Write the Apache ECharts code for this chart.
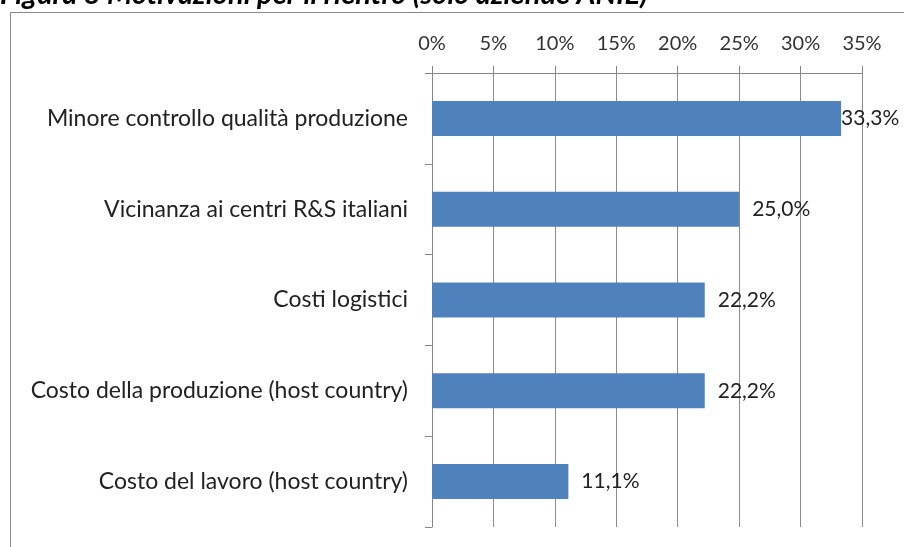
<!DOCTYPE html>
<html>
<head>
<meta charset="utf-8">
<script src="https://cdn.jsdelivr.net/npm/echarts@6/dist/echarts.min.js"></script>
<style>
  html, body { margin: 0; padding: 0; background: #fff; }
  #chart { width: 904px; height: 547px; }
</style>
</head>
<body>
<div id="chart"></div>
<script>
var titleText = 'Figura 8 Motivazioni per il rientro (solo aziende ANIE)';
var categories = [
  'Minore controllo qualità produzione',
  'Vicinanza ai centri R&S italiani',
  'Costi logistici',
  'Costo della produzione (host country)',
  'Costo del lavoro (host country)'
];
var values = [33.3, 25.0, 22.2, 22.2, 11.1];
var labelGaps = [0, 13, 13, 13, 13];

var myChart = echarts.init(document.getElementById('chart'));

var barData = values.map(function (v, i) {
  return { value: v, label: { distance: labelGaps[i] } };
});

myChart.setOption({
  animation: false,
  backgroundColor: '#fff',
  textStyle: { fontFamily: 'Lato' },
  graphic: [
    {
      type: 'rect',
      shape: { x: 10.5, y: 12.5, width: 1000, height: 600 },
      style: { fill: 'none', stroke: '#8a8a8a', lineWidth: 1 },
      silent: true
    },
    {
      type: 'text',
      left: 0,
      top: -20,
      style: {
        text: titleText,
        font: 'italic bold 29px Lato',
        fill: '#000'
      }
    }
  ],
  grid: {
    left: 432,
    right: 42,
    top: 73,
    bottom: 20
  },
  xAxis: {
    type: 'value',
    position: 'top',
    min: 0,
    max: 35,
    interval: 5,
    axisLabel: {
      color: '#333',
      fontSize: 20,
      fontFamily: 'Lato',
      margin: 19,
      formatter: function (v) { return v + '%'; }
    },
    axisLine: { show: true, lineStyle: { color: '#868686' } },
    axisTick: { show: true, length: 7, lineStyle: { color: '#868686' } },
    splitLine: { show: true, lineStyle: { color: '#8c8c8c' } }
  },
  yAxis: {
    type: 'category',
    inverse: true,
    data: categories,
    axisLabel: {
      color: '#222',
      fontSize: 23,
      fontFamily: 'Lato',
      margin: 24
    },
    axisLine: { show: true, lineStyle: { color: '#868686' } },
    axisTick: { show: true, length: 7, lineStyle: { color: '#868686' } }
  },
  series: [{
    type: 'bar',
    data: barData,
    barWidth: 35,
    itemStyle: { color: '#4F81BD' },
    label: {
      show: true,
      position: 'right',
      color: '#222',
      fontSize: 21,
      fontFamily: 'Lato',
      formatter: function (p) { return p.value.toFixed(1).replace('.', ',') + '%'; }
    }
  }]
});
</script>
</body>
</html>
